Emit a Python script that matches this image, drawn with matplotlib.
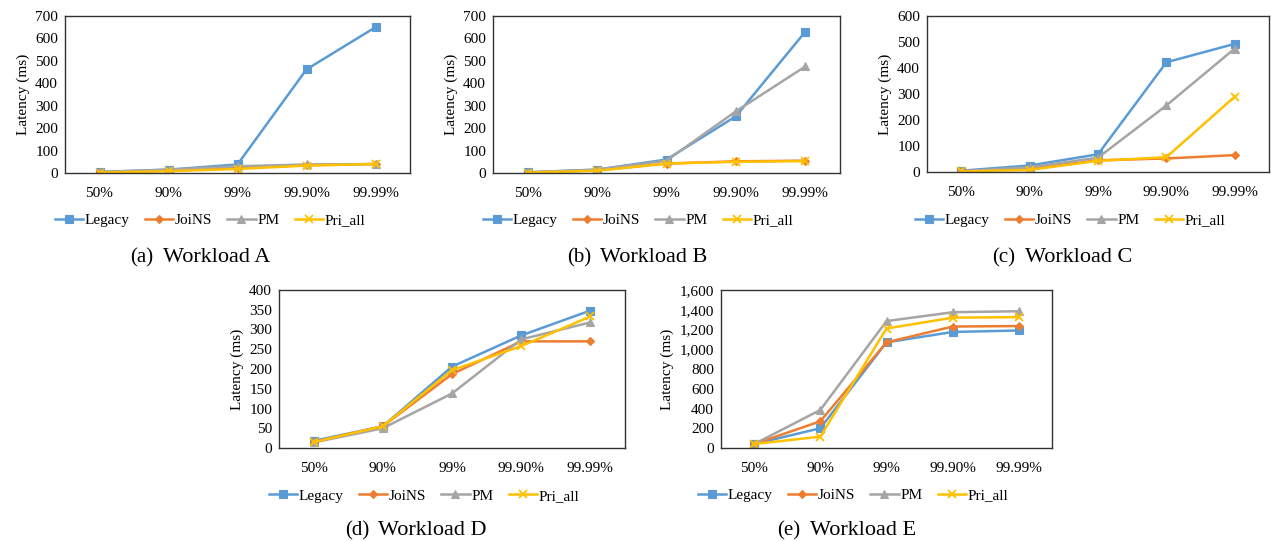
import matplotlib
matplotlib.use("Agg")
import matplotlib.pyplot as plt
from matplotlib.ticker import MultipleLocator, FuncFormatter

plt.rcParams['font.family'] = ['Liberation Serif', 'DejaVu Serif']
plt.rcParams['font.size'] = 11

percentiles = ['50%', '90%', '99%', '99.90%', '99.99%']
series_names = ['Legacy', 'JoiNS', 'PM', 'Pri_all']
colors = ['#5B9BD5', '#ED7D31', '#A5A5A5', '#FFC000']
markers = ['s', 'D', '^', 'x']
msizes = [6, 4.5, 6, 5.5]

wl_a_legacy = [5, 15, 38, 462, 650]
wl_a_joins = [3, 10, 22, 35, 40]
wl_a_pm = [4, 15, 30, 38, 40]
wl_a_pri = [2, 8, 18, 33, 40]

wl_b_legacy = [3, 15, 60, 253, 630]
wl_b_joins = [2, 12, 42, 52, 55]
wl_b_pm = [3, 15, 55, 275, 475]
wl_b_pri = [2, 10, 42, 50, 53]

wl_c_legacy = [5, 25, 68, 422, 493]
wl_c_joins = [3, 12, 45, 52, 65]
wl_c_pm = [3, 18, 55, 256, 475]
wl_c_pri = [2, 8, 43, 57, 290]

wl_d_legacy = [18, 55, 206, 285, 348]
wl_d_joins = [15, 55, 187, 270, 270]
wl_d_pm = [14, 50, 138, 275, 318]
wl_d_pri = [15, 55, 197, 258, 333]

wl_e_legacy = [40, 200, 1070, 1175, 1190]
wl_e_joins = [40, 270, 1070, 1230, 1235]
wl_e_pm = [40, 385, 1285, 1375, 1385]
wl_e_pri = [40, 115, 1210, 1320, 1325]

W, H = 1271, 541
fig = plt.figure(figsize=(W / 100, H / 100), dpi=100)

# (box px: left, top, right, bottom), ymax, ystep, legend centre, caption start
panels = [
    ((65, 16, 410, 173), 700, 100, (210, 220), (130, 262), '(a)', 'Workload A',
     [wl_a_legacy, wl_a_joins, wl_a_pm, wl_a_pri]),
    ((493, 16, 840, 173), 700, 100, (638, 220), (567, 262), '(b)', 'Workload B',
     [wl_b_legacy, wl_b_joins, wl_b_pm, wl_b_pri]),
    ((927, 16, 1269, 172), 600, 100, (1070, 220), (992, 262), '(c)', 'Workload C',
     [wl_c_legacy, wl_c_joins, wl_c_pm, wl_c_pri]),
    ((279, 290, 625, 448), 400, 50, (424, 496), (345, 535), '(d)', 'Workload D',
     [wl_d_legacy, wl_d_joins, wl_d_pm, wl_d_pri]),
    ((721, 290, 1052, 448), 1600, 200, (853, 495), (777, 535), '(e)', 'Workload E',
     [wl_e_legacy, wl_e_joins, wl_e_pm, wl_e_pri]),
]

for box, ymax, ystep, leg_c, cap_p, tag, title, data in panels:
    l, t, r, b = box
    ax = fig.add_axes([l / W, 1 - b / H, (r - l) / W, (b - t) / H])
    x = range(len(percentiles))
    for vals, name, c, m, ms in zip(data, series_names, colors, markers, msizes):
        ax.plot(x, vals, color=c, marker=m, markersize=ms, linewidth=1.8,
                label=name, markeredgewidth=1.3 if m == 'x' else 0.8)
    ax.set_xlim(-0.5, len(percentiles) - 0.5)
    ax.set_ylim(0, ymax)
    ax.yaxis.set_major_locator(MultipleLocator(ystep))
    ax.yaxis.set_major_formatter(FuncFormatter(lambda v, p: f"{int(v):,}"))
    ax.set_xticks(list(x))
    ax.set_xticklabels(percentiles)
    ax.tick_params(length=0, pad=5)
    ax.tick_params(axis='x', pad=10)
    for s in ax.spines.values():
        s.set_color('#333333')
        s.set_linewidth(1.0)
    ax.set_ylabel('Latency (ms)', labelpad=4)
    fig.legend(*ax.get_legend_handles_labels(), loc='center',
               bbox_to_anchor=(leg_c[0] / W, 1 - leg_c[1] / H), ncol=4,
               frameon=False, handlelength=1.85, columnspacing=1.0,
               handletextpad=0.1, fontsize=11)
    fig.text(cap_p[0] / W, 1 - cap_p[1] / H, tag, ha='left', va='baseline',
             fontsize=15)
    fig.text((cap_p[0] + 33) / W, 1 - cap_p[1] / H, title, ha='left',
             va='baseline', fontsize=16)

fig.savefig('out.png', dpi=100)
